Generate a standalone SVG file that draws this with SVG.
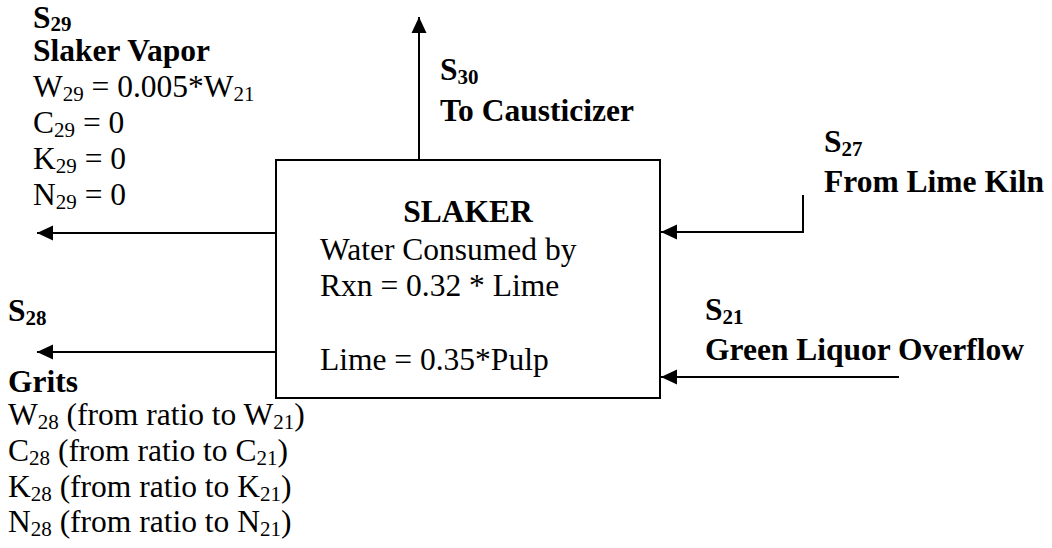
<svg xmlns="http://www.w3.org/2000/svg" width="1052" height="548" viewBox="0 0 1052 548">
<style>
text{font-family:"Liberation Serif","Times New Roman",serif;font-size:31.5px;fill:#000}
.b{font-weight:bold}
.sub{font-size:21px}
.ln{stroke:#000;stroke-width:2;fill:none}
</style>
<defs>
<marker id="ah" markerUnits="userSpaceOnUse" markerWidth="16" markerHeight="16" viewBox="0 0 16 16" refX="16" refY="8" orient="auto">
<path d="M0,0.5 L16,8 L0,15.5 Z" fill="#000"/>
</marker>
</defs>
<rect width="1052" height="548" fill="#fff"/>
<g id="connectors">
<line class="ln" x1="419" y1="160" x2="419" y2="17" marker-end="url(#ah)"/>
<line class="ln" x1="276" y1="233" x2="37" y2="233" marker-end="url(#ah)"/>
<line class="ln" x1="276" y1="352" x2="37" y2="352" marker-end="url(#ah)"/>
<polyline class="ln" points="803,195 803,232 661,232" marker-end="url(#ah)"/>
<line class="ln" x1="899" y1="377" x2="661" y2="377" marker-end="url(#ah)"/>
</g>
<g id="slaker">
<rect x="276" y="160" width="384" height="238" class="ln"/>
<text class="b" x="468" y="222" text-anchor="middle">SLAKER</text>
<text x="320" y="260">Water Consumed by</text>
<text x="320" y="296">Rxn = 0.32 * Lime</text>
<text x="320" y="370">Lime = 0.35*Pulp</text>
</g>
<g id="s29">
<text class="b" x="33" y="28">S<tspan class="sub" dy="3">29</tspan></text>
<text class="b" x="33" y="61">Slaker Vapor</text>
<text x="33" y="97">W<tspan class="sub" dy="4">29</tspan><tspan dy="-4"> = 0.005*W</tspan><tspan class="sub" dy="4">21</tspan></text>
<text x="33" y="133">C<tspan class="sub" dy="4">29</tspan><tspan dy="-4"> = 0</tspan></text>
<text x="33" y="169">K<tspan class="sub" dy="4">29</tspan><tspan dy="-4"> = 0</tspan></text>
<text x="33" y="205">N<tspan class="sub" dy="4">29</tspan><tspan dy="-4"> = 0</tspan></text>
</g>
<g id="s30">
<text class="b" x="440" y="80">S<tspan class="sub" dy="4">30</tspan></text>
<text class="b" x="440" y="121">To Causticizer</text>
</g>
<g id="s27">
<text class="b" x="824" y="152">S<tspan class="sub" dy="4">27</tspan></text>
<text class="b" x="824" y="192">From Lime Kiln</text>
</g>
<g id="s21">
<text class="b" x="705" y="320">S<tspan class="sub" dy="4">21</tspan></text>
<text class="b" x="705" y="360">Green Liquor Overflow</text>
</g>
<g id="s28">
<text class="b" x="8" y="321">S<tspan class="sub" dy="4">28</tspan></text>
<text class="b" x="8" y="392">Grits</text>
<text x="8" y="425">W<tspan class="sub" dy="4">28</tspan><tspan dy="-4"> (from ratio to W</tspan><tspan class="sub" dy="4">21</tspan><tspan dy="-4">)</tspan></text>
<text x="8" y="461">C<tspan class="sub" dy="4">28</tspan><tspan dy="-4"> (from ratio to C</tspan><tspan class="sub" dy="4">21</tspan><tspan dy="-4">)</tspan></text>
<text x="8" y="497">K<tspan class="sub" dy="4">28</tspan><tspan dy="-4"> (from ratio to K</tspan><tspan class="sub" dy="4">21</tspan><tspan dy="-4">)</tspan></text>
<text x="8" y="532">N<tspan class="sub" dy="4">28</tspan><tspan dy="-4"> (from ratio to N</tspan><tspan class="sub" dy="4">21</tspan><tspan dy="-4">)</tspan></text>
</g>
</svg>
